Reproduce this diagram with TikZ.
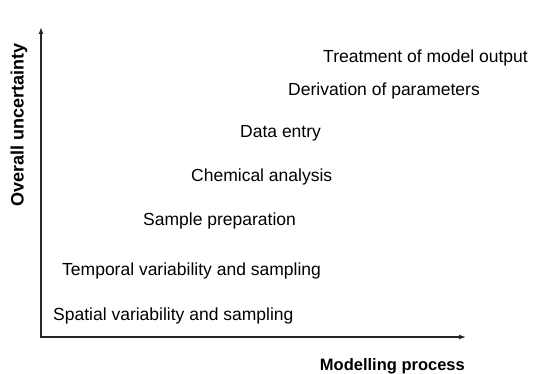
\documentclass[tikz,border=0pt]{standalone}
\usepackage{fontspec}
\setmainfont{Liberation Sans}
\usepackage{tikz}
\usetikzlibrary{arrows.meta, positioning}
\tikzset{
  stagelabel/.style={anchor=west, inner sep=0pt, font=\fontsize{17.5}{20}\selectfont},
  axislabel/.style={inner sep=0pt, font=\bfseries\fontsize{16.5}{19}\selectfont},
  axisarrow/.style={{Latex[length=7pt,width=5pt]}-{Latex[length=7pt,width=5pt]}, line width=1.3pt, color=black!85}
}

\begin{document}
\begin{tikzpicture}[x=1pt, y=-1pt]
  \useasboundingbox (0,0) rectangle (535,374);
  % axes
  \coordinate (origin) at (41,337);
  \coordinate (ytop) at (41,27);
  \coordinate (xend) at (466,337);
  \draw[axisarrow] (ytop) -- (origin) -- (xend);
  \node[axislabel, rotate=90] (ylab) at (19,125) {\fontsize{18}{20}\selectfont Overall uncertainty};
  \node[axislabel, anchor=east] (xlab) at (465,366) {Modelling process};
  % stages, rising left to right
  \node[stagelabel] (spatial) at (53,316) {Spatial variability and sampling};
  \node[stagelabel] (temporal) at (62,271) {Temporal variability and sampling};
  \node[stagelabel] (prep) at (143,221) {Sample preparation};
  \node[stagelabel] (chem) at (191,177) {Chemical analysis};
  \node[stagelabel] (entry) at (240,133) {Data entry};
  \node[stagelabel] (deriv) at (288,91) {Derivation of parameters};
  \node[stagelabel] (treat) at (323,58) {Treatment of model output};
\end{tikzpicture}
\end{document}
